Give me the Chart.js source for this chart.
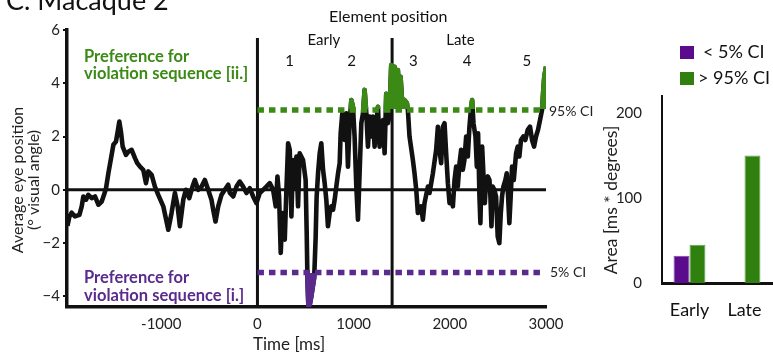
<!DOCTYPE html>
<html>
<head>
<meta charset="utf-8">
<script src="https://cdn.jsdelivr.net/npm/chart.js@4.4.1/dist/chart.umd.min.js"></script>
<style>
  html, body { margin: 0; padding: 0; background: #fff; }
  #wrap { position: relative; width: 773px; height: 355px; overflow: hidden; }
  canvas { position: absolute; top: 0; }
  #trace { left: 0; }
  #area { left: 580px; }
</style>
</head>
<body>
<div id="wrap">
  <canvas id="trace" width="600" height="355"></canvas>
  <canvas id="area" width="193" height="355"></canvas>
</div>
<script>
// averaged eye position, macaque 2
const timeMs = [
  -1975, -1955, -1931, -1897, -1851, -1827, -1810, -1782, -1758, -1723, -1689, -1654, -1619, -1595,
  -1574, -1550, -1516, -1498, -1471, -1453, -1436, -1419, -1401, -1367, -1342, -1308, -1273, -1249,
  -1221, -1187, -1159, -1135, -1100, -1066, -1031, -979, -927, -893, -858, -830, -806, -771, -744,
  -709, -675, -651, -616, -581, -547, -512, -478, -460, -436, -408, -374, -339, -304, -287, -252,
  -218, -184, -149, -114, -80, -45, -10, 24, 59, 93, 128, 163, 190, 208, 225, 242, 260, 284, 301,
  319, 336, 353, 370, 388, 405, 422, 439, 474, 501, 512, 520, 530, 545, 560, 590, 605, 615, 630,
  647, 664, 682, 699, 716, 733, 751, 768, 786, 803, 820, 838, 855, 865, 882, 907, 924, 941, 958,
  976, 993, 1010, 1028, 1045, 1062, 1080, 1097, 1114, 1132, 1149, 1166, 1183, 1201, 1218, 1235,
  1253, 1270, 1287, 1305, 1322, 1339, 1356, 1373, 1384, 1391, 1409, 1426, 1443, 1460, 1478, 1488,
  1505, 1529, 1554, 1564, 1581, 1616, 1633, 1651, 1668, 1702, 1720, 1737, 1772, 1789, 1824, 1858,
  1876, 1893, 1910, 1928, 1945, 1962, 1980, 1997, 2014, 2032, 2049, 2066, 2083, 2101, 2118, 2135,
  2152, 2170, 2187, 2204, 2222, 2232, 2246, 2267, 2281, 2294, 2308, 2318, 2336, 2349, 2364, 2377,
  2395, 2412, 2422, 2433, 2446, 2463, 2481, 2498, 2515, 2530, 2543, 2557, 2578, 2592, 2606, 2619,
  2633, 2647, 2665, 2689, 2706, 2723, 2740, 2764, 2785, 2810, 2834, 2855, 2876, 2896, 2917, 2938,
  2959, 2972, 2982, 3000
];
const eyePos = [
  -1.35, -1.0, -0.86, -1.0, -0.94, -0.62, -0.25, -0.37, -0.19, -0.31, -0.25, -0.56, -0.44, -0.19,
  0.06, 0.62, 1.31, 1.69, 1.81, 2.18, 2.56, 2.18, 1.62, 1.31, 1.43, 1.5, 1.19, 1.0,
  0.87, 0.75, 0.25, 0.69, 0.56, 0.12, -0.19, -0.62, -1.5, -0.87, -0.12, -0.62, -1.37, -0.37, 0,
  -0.31, 0.12, 0.37, 0, 0.12, 0.37, 0, -0.37, -0.75, -1.19, -0.62, -0.19, 0, 0.19, -0.12, -0.25,
  0.12, 0.31, 0.12, -0.12, 0.06, -0.25, -0.5, -0.12, 0, 0.12, 0.25, 0, -0.62, 0.5, -0.25, -2.37, -0.87, -1.87, 0,
  1.75, 1.5, -1.0, 1.12, 0.12, 1.25, -0.62, 1.37, 1.12, 0.37, -1.6, -3.4, -4.4, -4.3, -4.0, -3.3, -1.8, -0.3, 0.62,
  1.37, 1.75, 0.75, 0.25, -0.37, -1.37, -0.87, -0.62, -0.75, -0.37, 0.12, 0.62, 1.0, 2.12, 2.87, 1.87, 2.87, 0.87, 2.5,
  3.37, 3.12, 2.0, 0.12, -1.12, 0.62, 2.5, 2.87, 3.75, 2.87, 1.62, 2.75, 2.0, 2.75, 1.62, 2.5,
  3.12, 1.62, 2.25, 2.62, 1.37, 3.6, 2.5, 2.75, 4.0, 4.68, 4.24, 4.62, 3.75, 4.5, 3.12, 4.24,
  3.25, 3.37, 3.25, 3.0, 2.0, 1.12, 0.62, 0, -0.87, -0.62, -1.12, -0.5, 0.12, -0.12, 0.62, 1.5,
  2.37, 1.5, 1.0, 2.37, 2.5, 1.37, 0.25, -0.5, -0.25, -0.62, 0.37, 0.87, 0.12, 1.0, 1.5, 0.75,
  1.12, 2.0, 1.25, 2.37, 3.12, 3.37, 2.5, 2.0, 0.87, 2.12, -0.25, -1.25, 1.62, 0.62, -0.5, 0.37,
  0.5, 0.37, -0.25, -1.37, 0.12, 0, -0.25, -1.75, -2.0, -0.87, -0.25, 0.12, 0.37, 0.62, -0.25, -1.25,
  -0.25, 0.87, 0.37, 1.37, 1.62, 1.25, 1.87, 2.0, 1.87, 2.25, 2.37, 1.87, 1.62, 2.0, 2.25, 2.62,
  3.0, 3.75, 4.24, 4.62
];

const xTicks = [-1000, 0, 1000, 2000, 3000];
const yTicks = [-4, -2, 0, 2, 4, 6];
const ciHigh = 3.0;
const ciLow = -3.1;
const ciEnd = 2960;
const markerTimes = [0, 1400];
const markerTop = 5.7;
const phaseLabels = ['Early', 'Late'];
const phaseTimes = [690, 2110];
const elementLabels = ['1', '2', '3', '4', '5'];
const elementTimes = [335, 980, 1620, 2180, 2800];

// area outside the confidence band
const areaCategories = ['Early', 'Late'];
const areaBelow5 = [32, 0];
const areaAbove95 = [45, 150];
const areaTicks = [0, 100, 200];

const GREEN = '#3b8a16';
const PURPLE = '#5a2b8c';
const INK = '#111';
const FONT = 'Lato, "Open Sans", sans-serif';
Chart.defaults.font.family = FONT;
Chart.defaults.color = '#222';

const xMin = -1980, xMax = 3000, yMin = -4.4, yMax = 6;
const tracePts = timeMs.map((t, i) => ({x: t, y: eyePos[i]}));
const hLine = (y, x0, x1) => [{x: x0, y: y}, {x: x1, y: y}];
const vLine = (x, y0, y1) => [{x: x, y: y0}, {x: x, y: y1}];

// shades the trace where it leaves the CI band and keeps the coloured
// copy of the line on that side of the band only
const clipBand = {
  id: 'clipBand',
  beforeDatasetDraw(chart, args) {
    const band = chart.data.datasets[args.index].band;
    if (!band) return;
    const {ctx, chartArea: a, scales: {y}} = chart;
    const lim = y.getPixelForValue(band.value);
    const pts = args.meta.data;
    ctx.save();
    ctx.beginPath();
    if (band.side === 'above') {
      const edge = Math.floor(lim);
      ctx.rect(a.left, a.top - 5, a.right - a.left + 5, edge - a.top + 5);
    } else {
      const edge = Math.ceil(lim);
      ctx.rect(a.left, edge, a.right - a.left + 5, a.bottom - edge + 5);
    }
    ctx.clip();
    ctx.beginPath();
    ctx.moveTo(pts[0].x, lim);
    pts.forEach(p => ctx.lineTo(p.x, p.y));
    ctx.lineTo(pts[pts.length - 1].x, lim);
    ctx.closePath();
    ctx.fillStyle = band.color;
    ctx.fill();
  },
  afterDatasetDraw(chart, args) {
    if (chart.data.datasets[args.index].band) chart.ctx.restore();
  }
};

const traceText = {
  id: 'traceText',
  afterDraw(chart) {
    const {ctx, scales: {x, y}} = chart;
    ctx.save();
    ctx.fillStyle = INK;
    ctx.textAlign = 'left';
    ctx.textBaseline = 'alphabetic';
    ctx.font = '27px ' + FONT;
    ctx.fillText('C. Macaque 2', 6, 10);

    ctx.textAlign = 'center';
    ctx.textBaseline = 'middle';
    ctx.font = '16px ' + FONT;
    ctx.fillText('Element position', x.getPixelForValue(1360), 17);
    ctx.font = '15px ' + FONT;
    phaseLabels.forEach((s, i) => ctx.fillText(s, x.getPixelForValue(phaseTimes[i]), 40));
    elementLabels.forEach((s, i) => ctx.fillText(s, x.getPixelForValue(elementTimes[i]), 61));

    ctx.textAlign = 'left';
    ctx.font = 'bold 16.5px ' + FONT;
    ctx.fillStyle = GREEN;
    ctx.fillText('Preference for', 84, 57);
    ctx.fillText('violation sequence [ii.]', 84, 74);
    ctx.fillStyle = PURPLE;
    ctx.fillText('Preference for', 84, 278);
    ctx.fillText('violation sequence [i.]', 84, 296);

    ctx.fillStyle = '#222';
    ctx.font = '14px ' + FONT;
    ctx.fillText('95% CI', 549, y.getPixelForValue(ciHigh) + 2);
    ctx.fillText('5% CI', 550, y.getPixelForValue(ciLow));

    ctx.font = '17px ' + FONT;
    ctx.fillText('Time [ms]', 253, 345);
    ctx.font = '16px ' + FONT;
    ctx.translate(18, 180);
    ctx.rotate(-Math.PI / 2);
    ctx.textAlign = 'center';
    ctx.fillText('Average eye position', 0, 0);
    ctx.fillText('(\u00b0 visual angle)', 0, 16);
    ctx.restore();
  }
};

new Chart(document.getElementById('trace'), {
  type: 'line',
  data: {
    datasets: [
      {data: hLine(0, xMin, xMax), borderColor: INK, borderWidth: 3, order: 4},
      ...markerTimes.map(t => ({data: vLine(t, yMin, markerTop), borderColor: INK, borderWidth: 3, order: 4})),
      {data: tracePts, borderColor: INK, borderWidth: 4.6, borderJoinStyle: 'round', order: 3},
      {data: tracePts, borderColor: GREEN, borderWidth: 4.6, borderJoinStyle: 'round', order: 2,
       band: {side: 'above', value: ciHigh, color: GREEN}},
      {data: tracePts, borderColor: PURPLE, borderWidth: 4.6, borderJoinStyle: 'round', order: 2,
       band: {side: 'below', value: ciLow, color: PURPLE}},
      {data: hLine(ciHigh, 0, ciEnd), borderColor: GREEN, borderWidth: 5.5, borderDash: [6.5, 5], order: 1},
      {data: hLine(ciLow, 0, ciEnd), borderColor: PURPLE, borderWidth: 5.5, borderDash: [6.5, 5], order: 1}
    ]
  },
  options: {
    responsive: false,
    animation: false,
    layout: {padding: {top: 30, right: 54, bottom: 0, left: 0}},
    elements: {point: {radius: 0}, line: {tension: 0, fill: false}},
    plugins: {legend: {display: false}, tooltip: {enabled: false}},
    scales: {
      x: {
        type: 'linear', min: xMin, max: xMax,
        afterBuildTicks: s => { s.ticks = xTicks.map(v => ({value: v})); },
        afterFit: s => { s.height = 48; },
        ticks: {font: {size: 15}, color: '#222', padding: 8, autoSkip: false, maxRotation: 0, callback: v => String(v)},
        grid: {drawOnChartArea: false, drawTicks: false},
        border: {color: INK, width: 3.5}
      },
      y: {
        min: yMin, max: yMax,
        afterBuildTicks: s => { s.ticks = yTicks.map(v => ({value: v})); },
        afterFit: s => { s.width = 67; },
        ticks: {font: {size: 15}, color: '#222', padding: 3, callback: v => v < 0 ? '\u2212' + Math.abs(v) : String(v)},
        grid: {drawOnChartArea: false, tickLength: 4, color: INK, lineWidth: 2},
        border: {color: INK, width: 3.5}
      }
    }
  },
  plugins: [clipBand, traceText]
});

const legendX = [123, 118];
const areaText = {
  id: 'areaText',
  afterDraw(chart) {
    const {ctx} = chart;
    ctx.save();
    ctx.font = '18px ' + FONT;
    ctx.textBaseline = 'middle';
    ctx.textAlign = 'left';
    chart.data.datasets.forEach((ds, i) => {
      const top = 46 + i * 26;
      ctx.fillStyle = ds.backgroundColor;
      ctx.fillRect(100, top, 14, 13);
      ctx.fillStyle = '#111';
      ctx.fillText(ds.label, legendX[i], top + 6);
    });
    ctx.font = '17.5px ' + FONT;
    ctx.fillStyle = '#222';
    ctx.translate(31, 200);
    ctx.rotate(-Math.PI / 2);
    ctx.textAlign = 'center';
    ctx.fillText('Area [ms * degrees]', 0, 0);
    ctx.restore();
  }
};

new Chart(document.getElementById('area'), {
  type: 'bar',
  data: {
    labels: areaCategories,
    datasets: [
      {label: '< 5% CI', data: areaBelow5, backgroundColor: '#5a0c8c', borderColor: '#7d48a8',
       borderWidth: c => c.raw > 0 ? 1 : 0},
      {label: '> 95% CI', data: areaAbove95, backgroundColor: '#2f800f', borderColor: '#62a847',
       borderWidth: c => c.raw > 0 ? 1 : 0}
    ]
  },
  options: {
    responsive: false,
    animation: false,
    layout: {padding: {top: 96, right: 1, bottom: 0, left: 0}},
    datasets: {bar: {categoryPercentage: 0.58, barPercentage: 1}},
    plugins: {legend: {display: false}, tooltip: {enabled: false}},
    scales: {
      x: {
        afterFit: s => { s.height = 72; },
        ticks: {font: {size: 18}, color: '#111', padding: 8},
        grid: {display: false},
        border: {color: INK, width: 3}
      },
      y: {
        min: 0, max: 220,
        afterBuildTicks: s => { s.ticks = areaTicks.map(v => ({value: v})); },
        afterFit: s => { s.width = 82; },
        ticks: {font: {size: 15}, color: '#222', padding: 12},
        grid: {display: false},
        border: {color: INK, width: 2}
      }
    }
  },
  plugins: [areaText]
});
</script>
</body>
</html>
